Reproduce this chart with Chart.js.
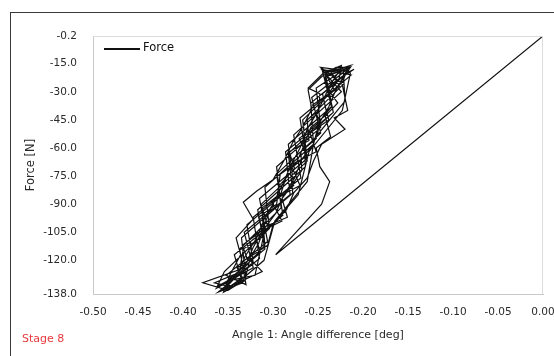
<!DOCTYPE html>
<html>
<head>
<meta charset="utf-8">
<script src="https://cdn.jsdelivr.net/npm/chart.js@4.4.0/dist/chart.umd.min.js"></script>
<style>
  html, body { margin: 0; padding: 0; background: #fff; }
  #wrap { position: relative; width: 554px; height: 356px; }
  #marco { position: absolute; left: 10px; top: 12px; right: 0; bottom: 0;
           border-left: 1.5px solid #3a3a3a; border-top: 1.5px solid #3a3a3a; }
  canvas { position: absolute; left: 0; top: 0; }
</style>
</head>
<body>
<div id="wrap">
  <div id="marco"></div>
  <canvas id="grafico" width="554" height="356"></canvas>
</div>
<script>
// Datos (angulo en grados, fuerza en N), en orden de registro
const angulo = [
  -0.353, -0.309, -0.313, -0.262, -0.267, -0.222, -0.217,
  -0.245, -0.235, -0.283, -0.277, -0.329, -0.322, -0.358,
  -0.330, -0.335, -0.278, -0.283, -0.233, -0.242,
  -0.215, -0.257, -0.247, -0.296, -0.289, -0.343, -0.334,
  -0.361, -0.315, -0.322, -0.269, -0.277, -0.224, -0.246,
  -0.213, -0.270, -0.263, -0.315, -0.306, -0.352,
  -0.330, -0.337, -0.291, -0.296, -0.247, -0.252, -0.214,
  -0.242, -0.233, -0.286, -0.281, -0.332, -0.322, -0.363,
  -0.354, -0.304, -0.309, -0.255, -0.258, -0.215,
  -0.247, -0.222, -0.266, -0.264, -0.317, -0.309, -0.351,
  -0.320, -0.310, -0.272, -0.260, -0.223, -0.214,
  -0.222, -0.220, -0.254, -0.262, -0.298, -0.310, -0.344,
  -0.352, -0.338, -0.331, -0.318, -0.309, -0.300, -0.288, -0.281, -0.270, -0.262, -0.251, -0.243, -0.236, -0.228, -0.216,
  -0.222, -0.231, -0.238, -0.249, -0.255, -0.268, -0.276, -0.289, -0.297, -0.311, -0.322, -0.329, -0.343, -0.362,
  -0.345, -0.322, -0.325, -0.305, -0.312, -0.291, -0.283, -0.262, -0.271, -0.248, -0.256, -0.232, -0.241, -0.220,
  -0.236, -0.226, -0.244, -0.238, -0.259, -0.252, -0.280, -0.270, -0.302, -0.290, -0.320, -0.314, -0.340, -0.332, -0.355,
  -0.348, -0.336, -0.341, -0.322, -0.333, -0.318, -0.300, -0.287, -0.278, -0.266, -0.257, -0.261, -0.246, -0.230,
  -0.214, -0.224, -0.217, -0.232, -0.220, -0.246, -0.255, -0.262, -0.277, -0.285, -0.300, -0.306, -0.325, -0.330, -0.348,
  -0.365, -0.340, -0.328, -0.334, -0.312, -0.304, -0.295, -0.292, -0.274, -0.265, -0.258, -0.240, -0.245, -0.227, -0.224,
  -0.244, -0.261, -0.248, -0.249, -0.262, -0.260, -0.282, -0.276, -0.293, -0.296, -0.316, -0.310, -0.333, -0.337, -0.378, -0.350,
  -0.330, -0.312, -0.326, -0.316, -0.309, -0.284, -0.290, -0.279, -0.268, -0.269, -0.252, -0.247, -0.235, -0.238, -0.218, -0.210,
  -0.226, -0.237, -0.228, -0.242, -0.236, -0.252, -0.248, -0.237, -0.246, -0.297, 0.000
];
const fuerza = [
  -135, -112, -90, -67, -45, -24, -17,
  -19, -38, -58, -80, -101, -121, -136,
  -130, -108, -84, -63, -41, -22,
  -17, -33, -52, -74, -96, -117, -132,
  -137, -119, -97, -76, -53, -30, -18,
  -21, -44, -66, -87, -110, -128,
  -133, -114, -92, -70, -49, -28, -16,
  -20, -41, -62, -85, -105, -124, -135,
  -126, -103, -81, -58, -36, -19,
  -17, -26, -47, -70, -93, -114, -131,
  -128, -106, -85, -62, -40, -20,
  -18, -35, -55, -78, -99, -120, -134,
  -133, -126, -118, -108, -97, -90, -78, -70, -60, -50, -41, -33, -26, -20, -17,
  -22, -30, -38, -47, -58, -66, -76, -86, -95, -104, -113, -121, -129, -134,
  -130, -122, -110, -103, -92, -84, -72, -64, -55, -46, -37, -29, -21, -18,
  -19, -27, -34, -45, -52, -62, -69, -80, -88, -99, -106, -116, -124, -131, -137,
  -128, -117, -108, -98, -89, -83, -77, -66, -57, -48, -39, -29, -22, -17,
  -17, -24, -40, -44, -50, -58, -67, -76, -84, -93, -101, -112, -118, -128, -134,
  -132, -127, -120, -112, -104, -94, -85, -74, -68, -58, -49, -42, -31, -24, -16,
  -20, -28, -31, -40, -45, -56, -62, -71, -80, -90, -97, -107, -114, -125, -132, -136,
  -130, -126, -119, -111, -102, -97, -87, -80, -72, -62, -55, -45, -38, -27, -20, -18,
  -23, -30, -36, -43, -54, -60, -70, -78, -90, -117, -0.2
];
const ticksX = [-0.50, -0.45, -0.40, -0.35, -0.30, -0.25, -0.20, -0.15, -0.10, -0.05, 0.00];
const ticksY = [-138.0, -120.0, -105.0, -90.0, -75.0, -60.0, -45.0, -30.0, -15.0, -0.2];

const fuente = 'DejaVu Sans';
const colorTexto = '#2a2a2a';
const colorEje = '#c8c8c8';

const puntos = angulo.map((a, i) => ({ x: a, y: fuerza[i] }));

// Leyenda dentro del area del grafico y rotulo de la etapa
const leyendaPlugin = {
  id: 'leyendaInterna',
  afterDraw(chart) {
    const ctx = chart.ctx;
    const etiqueta = chart.data.datasets[0].label;
    ctx.save();
    ctx.strokeStyle = '#111';
    ctx.lineWidth = 2;
    ctx.beginPath();
    ctx.moveTo(104, 49);
    ctx.lineTo(140, 49);
    ctx.stroke();
    ctx.fillStyle = '#111';
    ctx.font = '11.5px "' + fuente + '"';
    ctx.textBaseline = 'middle';
    ctx.fillText(etiqueta, 143, 48.5);
    ctx.fillStyle = '#e8383d';
    ctx.font = '11px "' + fuente + '"';
    ctx.fillText('Stage 8', 22, 339);
    ctx.restore();
  }
};

new Chart(document.getElementById('grafico').getContext('2d'), {
  type: 'scatter',
  data: {
    datasets: [{
      label: 'Force',
      data: puntos,
      showLine: true,
      borderColor: '#111',
      borderWidth: 1.2,
      pointRadius: 0,
      tension: 0
    }]
  },
  options: {
    responsive: false,
    animation: false,
    layout: { padding: { left: 24, top: 36, right: 11, bottom: 14 } },
    plugins: {
      legend: { display: false },
      tooltip: { enabled: false }
    },
    scales: {
      x: {
        type: 'linear',
        min: -0.5,
        max: 0,
        afterBuildTicks: s => { s.ticks = ticksX.map(v => ({ value: v })); },
        afterFit: s => { s.height = 48; s.paddingRight = 0; s.paddingLeft = 0; },
        grid: { display: false, drawTicks: true },
        border: { color: colorEje, width: 1 },
        ticks: {
          color: colorTexto,
          font: { family: fuente, size: 10.5 },
          padding: 4,
          maxRotation: 0,
          callback: v => v.toFixed(2)
        },
        title: {
          display: true,
          text: 'Angle 1: Angle difference [deg]',
          color: colorTexto,
          font: { family: fuente, size: 11 },
          padding: { top: 6, bottom: 0 }
        }
      },
      y: {
        type: 'linear',
        min: -138,
        max: -0.2,
        afterBuildTicks: s => { s.ticks = ticksY.map(v => ({ value: v })); },
        afterFit: s => { s.width = 69; s.paddingTop = 0; s.paddingBottom = 0; },
        grid: { display: false },
        border: { color: colorEje, width: 1 },
        ticks: {
          color: colorTexto,
          font: { family: fuente, size: 10.5 },
          padding: 8,
          callback: v => v.toFixed(1)
        },
        title: {
          display: true,
          text: 'Force [N]',
          color: colorTexto,
          font: { family: fuente, size: 11.5 },
          padding: { top: 0, bottom: 4 }
        }
      }
    }
  },
  plugins: [leyendaPlugin, {
    id: 'marcoArea',
    afterDatasetsDraw(chart) {
      const a = chart.chartArea, ctx = chart.ctx;
      ctx.save();
      ctx.strokeStyle = '#dcdcdc';
      ctx.lineWidth = 1;
      ctx.beginPath();
      ctx.moveTo(a.left, a.top + 0.5);
      ctx.lineTo(a.right, a.top + 0.5);
      ctx.moveTo(a.right - 0.5, a.top);
      ctx.lineTo(a.right - 0.5, a.bottom);
      ctx.stroke();
      ctx.restore();
    }
  }]
});
</script>
</body>
</html>
